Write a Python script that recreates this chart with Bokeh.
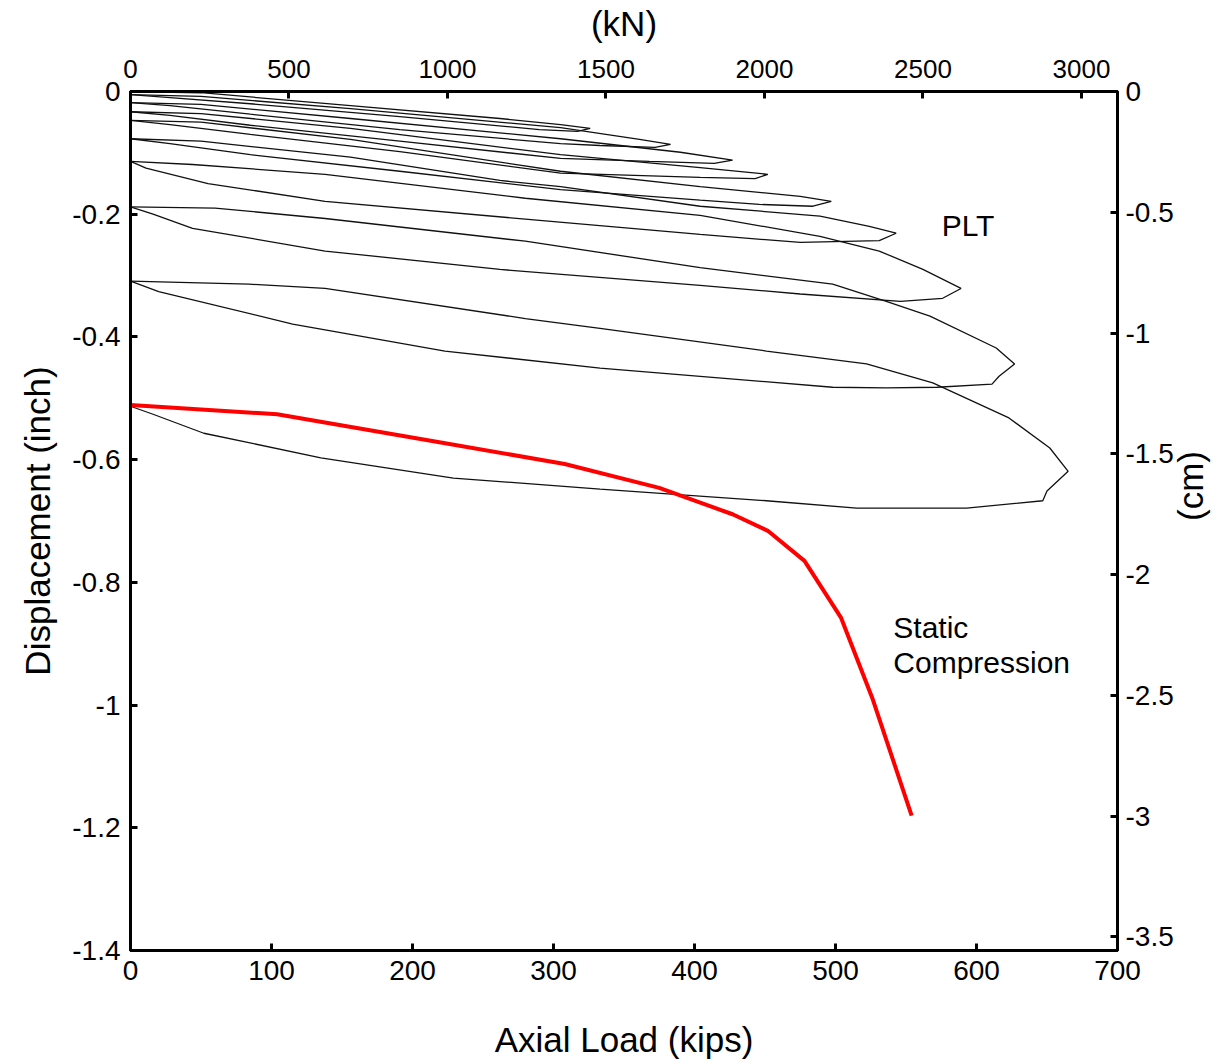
import math
from bokeh.plotting import figure
from bokeh.models import (Range1d, LinearAxis, FixedTicker, Label,
                          CustomJSTickFormatter)
from bokeh.embed import file_html
from bokeh.resources import INLINE

# ---------------- data ----------------
# PLT load cycles: loading branch followed by unloading branch (kips, inch)
loop1_kips = [0, 50, 156, 262, 305, 326, 317, 290, 191, 85, 28, 0]
loop1_disp = [0, -0.002, -0.023, -0.044, -0.054, -0.060, -0.065, -0.062, -0.041, -0.020, -0.010, -0.005]

loop2_kips = [0, 50, 156, 305, 361, 383, 372, 333, 305, 191, 85, 28, 0]
loop2_disp = [-0.005, -0.008, -0.028, -0.059, -0.078, -0.086, -0.091, -0.088, -0.085, -0.062, -0.037, -0.023, -0.018]

loop3_kips = [0, 50, 156, 305, 390, 427, 414, 368, 305, 191, 85, 28, 0]
loop3_disp = [-0.018, -0.021, -0.044, -0.077, -0.099, -0.112, -0.117, -0.114, -0.109, -0.081, -0.055, -0.039, -0.033]

loop4_kips = [0, 50, 156, 305, 404, 452, 443, 404, 305, 191, 85, 28, 0]
loop4_disp = [-0.033, -0.036, -0.060, -0.103, -0.124, -0.135, -0.142, -0.140, -0.133, -0.098, -0.070, -0.054, -0.047]

loop5_kips = [0, 50, 156, 305, 404, 475, 497, 484, 446, 404, 305, 191, 85, 28, 0]
loop5_disp = [-0.047, -0.050, -0.078, -0.130, -0.155, -0.171, -0.179, -0.187, -0.184, -0.177, -0.160, -0.130, -0.103, -0.085, -0.077]

loop6_kips = [0, 50, 156, 262, 305, 404, 489, 524, 543, 531, 475, 404, 280, 138, 55, 11, 0]
loop6_disp = [-0.077, -0.081, -0.107, -0.145, -0.155, -0.187, -0.203, -0.220, -0.231, -0.243, -0.246, -0.233, -0.208, -0.179, -0.150, -0.125, -0.114]

loop7_kips = [0, 44, 138, 280, 404, 489, 531, 562, 589, 576, 546, 475, 404, 262, 138, 44, 16, 0]
loop7_disp = [-0.114, -0.119, -0.135, -0.174, -0.202, -0.236, -0.260, -0.290, -0.321, -0.337, -0.342, -0.330, -0.316, -0.290, -0.260, -0.223, -0.200, -0.188]

loop8_kips = [0, 60, 138, 280, 404, 498, 536, 567, 614, 627, 616, 611, 572, 536, 498, 333, 223, 115, 20, 0]
loop8_disp = [-0.188, -0.190, -0.207, -0.244, -0.287, -0.314, -0.342, -0.366, -0.418, -0.444, -0.464, -0.477, -0.482, -0.483, -0.482, -0.451, -0.423, -0.379, -0.326, -0.309]

loop9_kips = [0, 84, 138, 280, 333, 451, 522, 569, 623, 652, 665, 650, 647, 593, 515, 451, 333, 229, 135, 52, 16, 0]
loop9_disp = [-0.309, -0.314, -0.321, -0.370, -0.386, -0.423, -0.444, -0.475, -0.532, -0.581, -0.619, -0.651, -0.667, -0.679, -0.679, -0.667, -0.648, -0.630, -0.597, -0.557, -0.526, -0.513]

# Static compression test
static_kips = [0, 104, 215, 308, 375, 427, 452, 478, 504, 526, 554]
static_disp = [-0.511, -0.526, -0.570, -0.607, -0.646, -0.689, -0.716, -0.765, -0.858, -0.988, -1.180]

# ticks
kips_ticks = [0, 100, 200, 300, 400, 500, 600, 700]
inch_ticks = [0, -0.2, -0.4, -0.6, -0.8, -1, -1.2, -1.4]
kn_ticks = [0, 500, 1000, 1500, 2000, 2500, 3000]
cm_ticks = [0, -0.5, -1, -1.5, -2, -2.5, -3, -3.5]

KIPS_TO_KN = 4.448222
INCH_TO_CM = 2.54

loops = [
    (loop1_kips, loop1_disp), (loop2_kips, loop2_disp), (loop3_kips, loop3_disp),
    (loop4_kips, loop4_disp), (loop5_kips, loop5_disp), (loop6_kips, loop6_disp),
    (loop7_kips, loop7_disp), (loop8_kips, loop8_disp), (loop9_kips, loop9_disp),
]

# ---------------- figure ----------------
FONT = "Liberation Sans"

p = figure(width=1232, height=1064,
           x_range=Range1d(0, 700), y_range=Range1d(-1.4, 0),
           output_backend="svg", toolbar_location=None,
           x_axis_location=None, y_axis_location=None,
           min_border_left=130, min_border_right=114,
           min_border_top=90, min_border_bottom=114)
p.xgrid.visible = False
p.ygrid.visible = False
p.outline_line_color = "black"
p.outline_line_width = 3
p.background_fill_color = "white"
p.border_fill_color = "white"

p.extra_x_ranges = {"kN": Range1d(0, 700 * KIPS_TO_KN)}
p.extra_y_ranges = {"cm": Range1d(-1.4 * INCH_TO_CM, 0)}

fmt_code = "return String(Math.round(tick * 100) / 100);"


def style_axis(ax, label_size, label_standoff, axis_label_standoff):
    ax.axis_line_width = 3
    ax.axis_line_color = "black"
    ax.major_tick_in = 7
    ax.major_tick_out = 0
    ax.major_tick_line_width = 3
    ax.minor_tick_line_color = None
    ax.major_label_text_font = FONT
    ax.major_label_text_font_size = label_size
    ax.major_label_text_color = "black"
    ax.major_label_standoff = label_standoff
    ax.axis_label_text_font = FONT
    ax.axis_label_text_font_size = "35px"
    ax.axis_label_text_font_style = "normal"
    ax.axis_label_text_color = "black"
    ax.axis_label_standoff = axis_label_standoff
    ax.formatter = CustomJSTickFormatter(code=fmt_code)


bottom = LinearAxis(ticker=FixedTicker(ticks=kips_ticks), axis_label="Axial Load (kips)")
style_axis(bottom, "28px", 10, 37)
p.add_layout(bottom, "below")

left = LinearAxis(ticker=FixedTicker(ticks=inch_ticks), axis_label="Displacement (inch)")
style_axis(left, "28px", 10, 12)
p.add_layout(left, "left")

top = LinearAxis(x_range_name="kN", ticker=FixedTicker(ticks=kn_ticks), axis_label="(kN)")
style_axis(top, "26px", 14, 14)
p.add_layout(top, "above")

right = LinearAxis(y_range_name="cm", ticker=FixedTicker(ticks=cm_ticks), axis_label="(cm)")
style_axis(right, "28px", 8, 14)
right.axis_label_orientation = math.pi / 2
p.add_layout(right, "right")

for kx, dy in loops:
    p.line(kx, dy, line_color="#111111", line_width=1.3)

p.line(static_kips, static_disp, line_color="#ff0000", line_width=4)

p.add_layout(Label(x=594, y=-0.218, text="PLT", text_font=FONT, text_font_size="30px",
                   text_align="center", text_baseline="middle", text_color="black"))
p.add_layout(Label(x=541, y=-0.874, text="Static", text_font=FONT, text_font_size="30px",
                   text_align="left", text_baseline="middle", text_color="black"))
p.add_layout(Label(x=541, y=-0.930, text="Compression", text_font=FONT, text_font_size="30px",
                   text_align="left", text_baseline="middle", text_color="black"))

open("out.html", "w").write(file_html(p, INLINE))
